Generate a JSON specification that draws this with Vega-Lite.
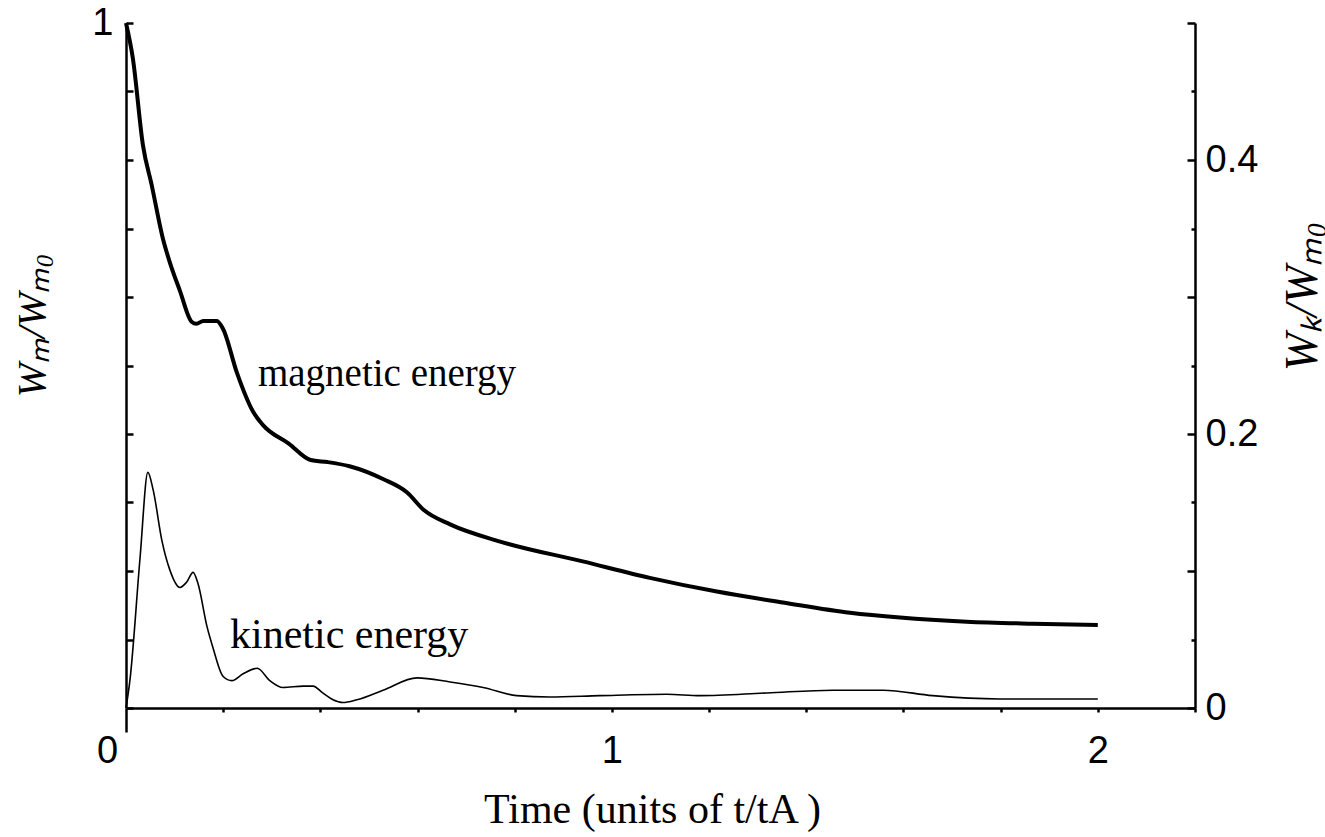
{
  "$schema": "https://vega.github.io/schema/vega-lite/v6.json",
  "width": 1069,
  "height": 685,
  "autosize": {"type": "none"},
  "padding": {"left": 126, "top": 23, "right": 130, "bottom": 129},
  "background": "white",
  "config": {
    "view": {"stroke": null},
    "axis": {"grid": false, "domainColor": "black", "tickColor": "black", "domainWidth": 2.5, "tickWidth": 2.5, "labelColor": "black", "titleColor": "black"}
  },
  "datasets": {
    "mag": [
      {"t": 0, "v": 1.0}, {"t": 0.014, "v": 0.949}, {"t": 0.035, "v": 0.821}, {"t": 0.053, "v": 0.763},
      {"t": 0.076, "v": 0.685}, {"t": 0.09, "v": 0.651}, {"t": 0.111, "v": 0.609}, {"t": 0.135, "v": 0.564},
      {"t": 0.145, "v": 0.561}, {"t": 0.159, "v": 0.565}, {"t": 0.187, "v": 0.565}, {"t": 0.2, "v": 0.553},
      {"t": 0.228, "v": 0.49}, {"t": 0.262, "v": 0.432}, {"t": 0.282, "v": 0.413}, {"t": 0.335, "v": 0.386},
      {"t": 0.38, "v": 0.362}, {"t": 0.415, "v": 0.359}, {"t": 0.46, "v": 0.353}, {"t": 0.53, "v": 0.334},
      {"t": 0.578, "v": 0.315}, {"t": 0.613, "v": 0.289}, {"t": 0.667, "v": 0.268}, {"t": 0.77, "v": 0.243},
      {"t": 0.94, "v": 0.214}, {"t": 1.078, "v": 0.19}, {"t": 1.216, "v": 0.17}, {"t": 1.352, "v": 0.154},
      {"t": 1.49, "v": 0.139}, {"t": 1.593, "v": 0.132}, {"t": 1.73, "v": 0.126}, {"t": 1.866, "v": 0.123},
      {"t": 2.0, "v": 0.121}
    ],
    "kin": [
      {"t": 0, "v": 0}, {"t": 0.008, "v": 0.02}, {"t": 0.029, "v": 0.11}, {"t": 0.045, "v": 0.172},
      {"t": 0.056, "v": 0.159}, {"t": 0.074, "v": 0.122}, {"t": 0.09, "v": 0.101}, {"t": 0.111, "v": 0.088},
      {"t": 0.125, "v": 0.092}, {"t": 0.138, "v": 0.099}, {"t": 0.148, "v": 0.091}, {"t": 0.167, "v": 0.059},
      {"t": 0.179, "v": 0.044}, {"t": 0.2, "v": 0.023}, {"t": 0.218, "v": 0.02}, {"t": 0.241, "v": 0.025},
      {"t": 0.27, "v": 0.029}, {"t": 0.296, "v": 0.02}, {"t": 0.323, "v": 0.015}, {"t": 0.365, "v": 0.016},
      {"t": 0.385, "v": 0.016}, {"t": 0.405, "v": 0.011}, {"t": 0.426, "v": 0.006}, {"t": 0.446, "v": 0.004},
      {"t": 0.475, "v": 0.006}, {"t": 0.529, "v": 0.013}, {"t": 0.599, "v": 0.022}, {"t": 0.667, "v": 0.019},
      {"t": 0.735, "v": 0.015}, {"t": 0.804, "v": 0.009}, {"t": 0.872, "v": 0.008}, {"t": 0.975, "v": 0.009},
      {"t": 1.113, "v": 0.01}, {"t": 1.181, "v": 0.009}, {"t": 1.319, "v": 0.011}, {"t": 1.455, "v": 0.013},
      {"t": 1.558, "v": 0.013}, {"t": 1.66, "v": 0.009}, {"t": 1.798, "v": 0.0066}, {"t": 2.0, "v": 0.0066}
    ],
    "labels": [
      {"t": 0.2716, "v": 0.47, "label": "magnetic energy"},
      {"t": 0.214, "v": 0.0878, "label": "kinetic energy"}
    ]
  },
  "layer": [
    {
      "data": {"name": "mag"},
      "mark": {"type": "line", "color": "black", "strokeWidth": 4, "interpolate": "monotone"},
      "encoding": {
        "x": {
          "field": "t", "type": "quantitative",
          "scale": {"domain": [0, 2.2], "nice": false, "zero": false},
          "axis": {
            "values": [0, 0.2, 0.4, 0.6, 0.8, 1, 1.2, 1.4, 1.6, 1.8, 2, 2.2],
            "labelExpr": "datum.value == 0 ? '0' : (datum.value == 1 ? '1' : (datum.value == 2 ? '2' : ''))",
            "tickSize": {"expr": "datum.value == 0 ? 24 : 4"},
            "labelPadding": {"expr": "datum.value == 0 ? 0 : 20"},
            "labelFont": "Liberation Sans", "labelFontSize": 38,
            "labelOffset": {"expr": "datum.value == 0 ? -19 : 0"},
            "labelFlush": false, "labelOverlap": false,
            "title": "Time (units of  t/tA )",
            "titleFont": "Liberation Serif", "titleFontSize": 42, "titleFontWeight": "normal",
            "titleX": 526, "titleY": 114, "titleBaseline": "alphabetic", "titleAlign": "center"
          }
        },
        "y": {
          "field": "v", "type": "quantitative",
          "scale": {"domain": [0, 1], "nice": false},
          "axis": {
            "orient": "left",
            "values": [0, 0.1, 0.2, 0.3, 0.4, 0.5, 0.6, 0.7, 0.8, 0.9, 1],
            "labelExpr": "datum.value == 1 ? '1' : ''",
            "tickSize": -7,
            "labelPadding": 20,
            "labelFont": "Liberation Sans", "labelFontSize": 38,
            "labelFlush": false, "labelOverlap": false,
            "title": "Wₘ/Wₘ₀",
            "titleFont": "Liberation Serif", "titleFontSize": 41, "titleFontStyle": "italic", "titleFontWeight": "normal",
            "titleAngle": 270, "titleX": -94, "titleY": 302, "titleBaseline": "middle", "titleAlign": "center"
          }
        }
      }
    },
    {
      "data": {"name": "kin"},
      "mark": {"type": "line", "color": "black", "strokeWidth": 1.6, "interpolate": "monotone"},
      "encoding": {
        "x": {"field": "t", "type": "quantitative", "scale": {"domain": [0, 2.2], "nice": false, "zero": false}},
        "y": {
          "field": "v", "type": "quantitative",
          "scale": {"domain": [0, 0.5], "nice": false},
          "axis": {
            "orient": "right",
            "values": [0, 0.05, 0.1, 0.15, 0.2, 0.25, 0.3, 0.35, 0.4, 0.45, 0.5],
            "labelExpr": "datum.value == 0 ? '0' : (abs(datum.value - 0.2) < 0.001 ? '0.2' : (abs(datum.value - 0.4) < 0.001 ? '0.4' : ''))",
            "tickSize": {"expr": "abs(datum.value * 10 - round(datum.value * 10)) < 0.01 ? -8 : -4"},
            "labelPadding": 18,
            "labelFont": "Liberation Sans", "labelFontSize": 38,
            "labelFlush": false, "labelOverlap": false,
            "title": "Wₖ/Wₘ₀",
            "titleFont": "Liberation Serif", "titleFontSize": 46, "titleFontStyle": "italic", "titleFontWeight": "normal",
            "titleAngle": 270, "titleX": 107, "titleY": 273, "titleBaseline": "middle", "titleAlign": "center"
          }
        }
      }
    },
    {
      "data": {"name": "labels"},
      "transform": [{"filter": "datum.label == 'magnetic energy'"}],
      "mark": {"type": "text", "font": "Liberation Serif", "fontSize": 39, "align": "left", "baseline": "alphabetic", "color": "black"},
      "encoding": {
        "x": {"field": "t", "type": "quantitative", "scale": {"domain": [0, 2.2], "nice": false, "zero": false}},
        "y": {"field": "v", "type": "quantitative", "scale": {"domain": [0, 1], "nice": false}, "axis": null},
        "text": {"field": "label"}
      }
    },
    {
      "data": {"name": "labels"},
      "transform": [{"filter": "datum.label == 'kinetic energy'"}],
      "mark": {"type": "text", "font": "Liberation Serif", "fontSize": 42, "align": "left", "baseline": "alphabetic", "color": "black"},
      "encoding": {
        "x": {"field": "t", "type": "quantitative", "scale": {"domain": [0, 2.2], "nice": false, "zero": false}},
        "y": {"field": "v", "type": "quantitative", "scale": {"domain": [0, 1], "nice": false}, "axis": null},
        "text": {"field": "label"}
      }
    }
  ],
  "resolve": {"scale": {"y": "independent"}}
}
